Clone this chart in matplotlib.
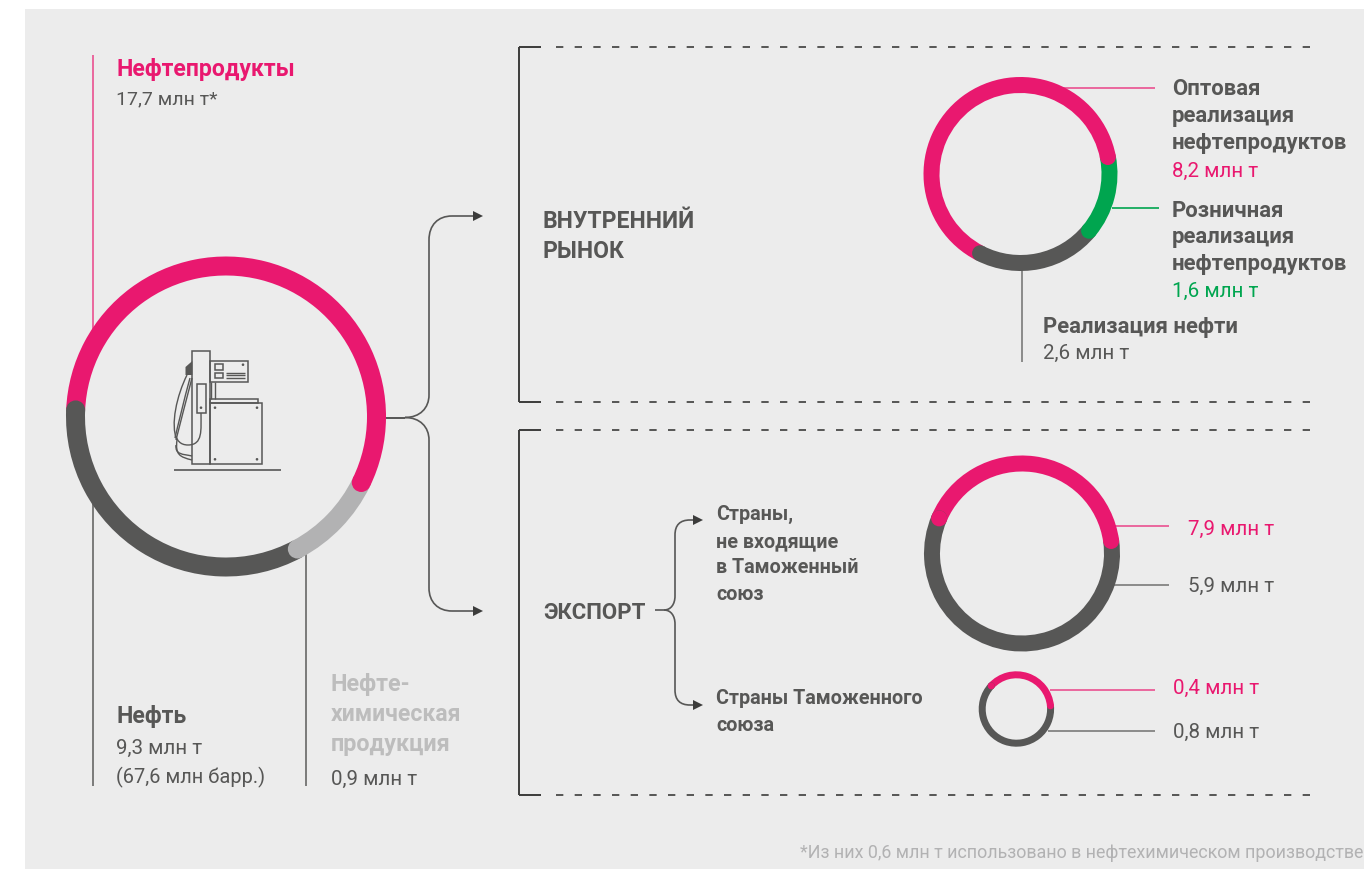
import numpy as np
import matplotlib
matplotlib.use('Agg')
import matplotlib.pyplot as plt
from matplotlib.patches import Wedge, Circle, Rectangle, Polygon, PathPatch
from matplotlib.path import Path

plt.rcParams['font.family'] = ['Roboto', 'DejaVu Sans']

# arc lengths in degrees as drawn in the picture (they do not follow the tonnes exactly)
main_arcs = [203.5, 35.7, 120.8]
domestic_arcs = [232, 50.6, 77.4]
export_far_arcs = [149, 211]
export_near_arcs = [132, 228]

PINK = '#e9186f'
PINK_LINE = '#ea5190'
DARK = '#575756'
LIGHT = '#b2b2b3'
GREEN = '#00a54f'
BG = '#ececec'

fig = plt.figure(figsize=(13.64, 8.7), dpi=100, facecolor='white')
ax = fig.add_axes([0, 0, 1, 1])
ax.set_xlim(0, 1364)
ax.set_ylim(869, -1)
ax.axis('off')
ax.add_patch(Rectangle((25, 9), 1339, 861, fc=BG, ec='none', zorder=0))


def line(xs, ys, color=DARK, lw=1.2, **kw):
    ax.plot(xs, ys, color=color, lw=lw, solid_capstyle='butt', zorder=2, **kw)


def ring(cx, cy, r, w, start, arcs, colors, start_cap=False):
    # angle grows clockwise on screen because the y axis is flipped
    mid = r - w / 2
    a = start
    ends = []
    for arc, col in zip(arcs, colors):
        ax.add_patch(Wedge((cx, cy), r, a, a + arc, width=w, fc=col, ec='none', zorder=3))
        a += arc
        ends.append((a, col))
    for ang, col in ends:
        t = np.radians(ang)
        ax.add_patch(Circle((cx + mid * np.cos(t), cy + mid * np.sin(t)), w / 2, fc=col, ec='none', zorder=4))
    if start_cap:
        t = np.radians(start)
        ax.add_patch(Circle((cx + mid * np.cos(t), cy + mid * np.sin(t)), w / 2, fc=colors[0], ec='none', zorder=5))


def curve(verts, lw=1.2):
    codes = [Path.MOVETO] + [Path.CURVE4] * (len(verts) - 1)
    ax.add_patch(PathPatch(Path(verts, codes), fc='none', ec=DARK, lw=lw, zorder=2))


def arrow(x, y):
    ax.add_patch(Polygon([(x, y - 5), (x + 10, y), (x, y + 5)], fc='#3c3c3b', ec='none', zorder=3))


def label(x, y, s, color=DARK, bold=False, size=14.8):
    # text was placed against the picture before the 1 px shift of the axes
    ax.text(x, y - 1, s, color=color, fontsize=size, fontweight='bold' if bold else 'normal',
            ha='left', va='baseline', zorder=6)


# leader lines behind the rings
line([92.5, 92.5], [55, 335], color=PINK_LINE)
line([92.5, 92.5], [495, 786], color='#7a7a79', lw=1.4)
line([306, 306], [548, 786], color='#7a7a79', lw=1.4)
line([1062, 1155], [87.5, 87.5], color=PINK_LINE)
line([1112, 1159], [207.5, 207.5], color=GREEN)
line([1022, 1022], [268, 362], color='#7a7a79')
line([1112, 1169], [525.5, 525.5], color=PINK_LINE)
line([1112, 1169], [585, 585], color='#7a7a79')
line([1050, 1155], [689.5, 689.5], color=PINK_LINE)
line([1048, 1155], [731, 731], color='#7a7a79')

ring(226, 416.5, 160, 19, 182.5, main_arcs, [PINK, LIGHT, DARK])
ring(1020.5, 174, 97, 16, 117, domestic_arcs, [PINK, GREEN, DARK])
ring(1022, 553.5, 98, 16, 203, export_far_arcs, [PINK, DARK], start_cap=True)
ring(1016.4, 709, 37.7, 7, 222.6, export_near_arcs, [PINK, DARK], start_cap=True)

# pump icon
for x0, y0, x1, y1 in [(192.3, 350.7, 210, 464), (210, 360.7, 247.7, 382.3), (214.7, 364.3, 223.3, 370),
                       (214.7, 372.7, 223.3, 378.3), (210, 398.7, 258.3, 403), (210, 402.7, 262.3, 464),
                       (197, 384.3, 205.7, 413.3)]:
    ax.add_patch(Rectangle((x0, y0), x1 - x0, y1 - y0, fc='none', ec=DARK, lw=1.1, zorder=2))
for yy in [372.7, 375.3, 378.3]:
    line([226, 244.7], [yy, yy], lw=1.0)
line([211, 211], [382, 398.7], lw=1.0)
line([215.3, 215.3], [382, 398.7], lw=1.0)
line([174, 281], [470, 470], lw=1.2)
ax.add_patch(Polygon([(185.5, 367), (192.3, 361), (192.3, 375), (185.5, 375)], fc=DARK, ec='none', zorder=2))
for px, py in [(215, 407.7), (257, 407.7), (215, 459.3), (257, 459.3), (201, 407.7), (243, 364.7)]:
    ax.add_patch(Circle((px, py), 1.3, fc=DARK, ec='none', zorder=2))
curve([(187, 375), (177, 395), (170, 425), (177, 440), (175, 455), (180, 457), (192, 460)], lw=1.0)
curve([(192, 378), (186, 400), (180, 425), (176, 440)], lw=1.0)
curve([(190, 378), (184, 400), (178, 425), (175, 438)], lw=1.0)
curve([(201, 413), (201, 430), (203, 445), (188, 445), (180, 445), (177, 440), (176, 436)], lw=1.0)
curve([(176, 445), (175, 455), (183, 454), (192, 456)], lw=1.0)

# branching arrows from the main ring
line([385, 405], [417.5, 417.5], color='#3c3c3b')
curve([(405, 417.5), (420, 417.5), (429, 408), (429, 395)])
line([429, 429], [395, 240], color=DARK)
curve([(429, 240), (429, 225), (438, 216), (452, 216)])
line([452, 474], [216, 216], color=DARK)
arrow(473, 216)
curve([(405, 417.5), (420, 417.5), (429, 427), (429, 440)])
line([429, 429], [440, 588], color=DARK)
curve([(429, 588), (429, 602), (438, 611), (452, 611)])
line([452, 474], [611, 611], color=DARK)
arrow(473, 611)

# section brackets
for top, bottom in [(47, 402), (430, 795)]:
    line([519, 519], [top, bottom], color='#3c3c3b', lw=1.4)
    for yy in (top, bottom):
        line([519, 541], [yy, yy], color='#3c3c3b', lw=1.4)
        ax.plot([556, 1311], [yy, yy], color='#3c3c3b', lw=1.2, dashes=(4.4, 6.8), zorder=2)

# export brace
line([655, 664], [610, 610], color=DARK)
curve([(664, 610), (671, 610), (675, 604), (675, 596)])
line([675, 675], [596, 535], color=DARK)
curve([(675, 535), (675, 525), (680, 520), (690, 520)])
line([690, 695], [520, 520], color=DARK)
arrow(693, 520)
curve([(664, 610), (671, 610), (675, 616), (675, 624)])
line([675, 675], [624, 690], color=DARK)
curve([(675, 690), (675, 700), (680, 705), (690, 705)])
line([690, 695], [705, 705], color=DARK)
arrow(693, 705)

# text
label(116, 76, 'Нефтепродукты', PINK, True, 16.6)
label(116, 104, '17,7 млн т*', size=14)
label(116, 723, 'Нефть', DARK, True, 16.6)
label(116, 754, '9,3 млн т')
label(116, 783, '(67,6 млн барр.)', size=14.4)
label(331, 691, 'Нефте-', '#bdbdbd', True, 16.8)
label(331, 721, 'химическая', '#bdbdbd', True, 16.6)
label(331, 751, 'продукция', '#bdbdbd', True, 16.8)
label(331, 785, '0,9 млн т')
label(543, 228, 'ВНУТРЕННИЙ', DARK, True, 16.5)
label(543, 258, 'РЫНОК', DARK, True, 16.5)
label(543, 619, 'ЭКСПОРТ', DARK, True, 16)
label(1172, 95, 'Оптовая', DARK, True, 15.9)
label(1172, 122, 'реализация', DARK, True, 15.9)
label(1172, 149, 'нефтепродуктов', DARK, True, 15.9)
label(1172, 177, '8,2 млн т', PINK)
label(1172, 217, 'Розничная', DARK, True, 15.9)
label(1172, 243, 'реализация', DARK, True, 15.9)
label(1172, 270, 'нефтепродуктов', DARK, True, 15.9)
label(1172, 297, '1,6 млн т', GREEN)
label(1043, 333, 'Реализация нефти', DARK, True, 15.9)
label(1043, 359, '2,6 млн т')
label(716, 520, 'Страны,', DARK, True, 14.2)
label(716, 547, 'не входящие', DARK, True, 14.2)
label(716, 573, 'в Таможенный', DARK, True, 14.2)
label(716, 600, 'союз', DARK, True, 14.2)
label(716, 704, 'Страны Таможенного', DARK, True, 14.2)
label(716, 731, 'союза', DARK, True, 14.2)
label(1188, 535, '7,9 млн т', PINK)
label(1188, 592, '5,9 млн т')
label(1173, 694, '0,4 млн т', PINK)
label(1173, 738, '0,8 млн т')
ax.text(800, 857, '*Из них 0,6 млн т использовано в нефтехимическом производстве', color='#b2b2b3',
        fontsize=12.9, ha='left', va='baseline', zorder=6, clip_on=True)

fig.savefig('out.png', dpi=100, facecolor=fig.get_facecolor())
